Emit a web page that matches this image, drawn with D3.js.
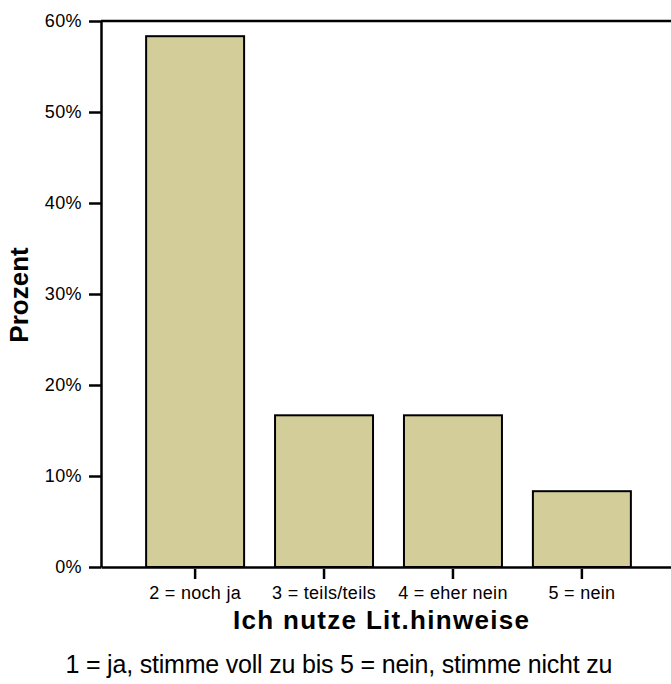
<!DOCTYPE html>
<html>
<head>
<meta charset="utf-8">
<script src="https://cdn.jsdelivr.net/npm/d3@7"></script>
<style>
  html, body { margin: 0; padding: 0; background: #fff; }
  svg { display: block; font-family: "Liberation Sans", Arial, sans-serif; }
</style>
</head>
<body>
<svg id="chart" width="671" height="684"></svg>
<script>
// Answer categories and their shares (percent of respondents)
const categories = ["2 = noch ja", "3 = teils/teils", "4 = eher nein", "5 = nein"];
const percents = [58.33, 16.67, 16.67, 8.33];
const yTicks = [0, 10, 20, 30, 40, 50, 60];
const xTitle = "Ich nutze Lit.hinweise";
const yTitle = "Prozent";
const note = "1 = ja, stimme voll zu bis 5 = nein, stimme nicht zu";

const svg = d3.select("#chart");
const margin = { left: 101, top: 21, bottom: 567, right: 676 };

const x = d3.scaleBand()
  .domain(categories)
  .range([margin.left, margin.right])
  .paddingInner(0.24)
  .paddingOuter(0.35);

const y = d3.scaleLinear()
  .domain([0, 60])
  .range([margin.bottom, margin.top]);

// Bars
svg.append("g")
  .selectAll("rect")
  .data(percents)
  .join("rect")
  .attr("x", (d, i) => x(categories[i]))
  .attr("y", d => y(d))
  .attr("width", x.bandwidth())
  .attr("height", d => y(0) - y(d))
  .attr("fill", "#d3ce99")
  .attr("stroke", "#000")
  .attr("stroke-width", 2);

// Frame: top edge of the plot area
svg.append("line")
  .attr("x1", margin.left).attr("x2", margin.right)
  .attr("y1", margin.top).attr("y2", margin.top)
  .attr("stroke", "#000").attr("stroke-width", 2.5);

// Y axis
const yAxis = svg.append("g")
  .attr("transform", `translate(${margin.left},0)`)
  .call(d3.axisLeft(y).tickValues(yTicks).tickFormat(d => d + "%").tickSize(12).tickPadding(7).tickSizeOuter(0));
yAxis.attr("font-family", "'Liberation Sans', Arial, sans-serif");
yAxis.select(".domain").attr("stroke-width", 2.5);
yAxis.selectAll(".tick line").attr("stroke-width", 2.5);
yAxis.selectAll(".tick text")
  .style("font-size", "18px")
  .attr("fill", "#000")
  .attr("letter-spacing", 0.4);

// X axis
const xAxis = svg.append("g")
  .attr("transform", `translate(0,${margin.bottom})`)
  .call(d3.axisBottom(x).tickSize(12).tickPadding(7).tickSizeOuter(0));
xAxis.attr("font-family", "'Liberation Sans', Arial, sans-serif");
xAxis.select(".domain").attr("stroke-width", 2.5);
xAxis.selectAll(".tick line").attr("stroke-width", 2.5).attr("y1", 2);
xAxis.selectAll(".tick text")
  .style("font-size", "18px")
  .attr("fill", "#000")
  .attr("letter-spacing", 0.3);

// Axis titles
svg.append("text")
  .attr("x", 381).attr("y", 629)
  .attr("text-anchor", "middle")
  .style("font-size", "26px")
  .attr("font-weight", "bold")
  .attr("textLength", 296)
  .attr("lengthAdjust", "spacing")
  .text(xTitle);

svg.append("text")
  .attr("transform", "translate(28,295) rotate(-90)")
  .attr("text-anchor", "middle")
  .style("font-size", "26px")
  .attr("font-weight", "bold")
  .text(yTitle);

// Scale note
svg.append("text")
  .attr("x", 339).attr("y", 673)
  .attr("text-anchor", "middle")
  .style("font-size", "25px")
  .attr("textLength", 547)
  .attr("lengthAdjust", "spacing")
  .text(note);
</script>
</body>
</html>
